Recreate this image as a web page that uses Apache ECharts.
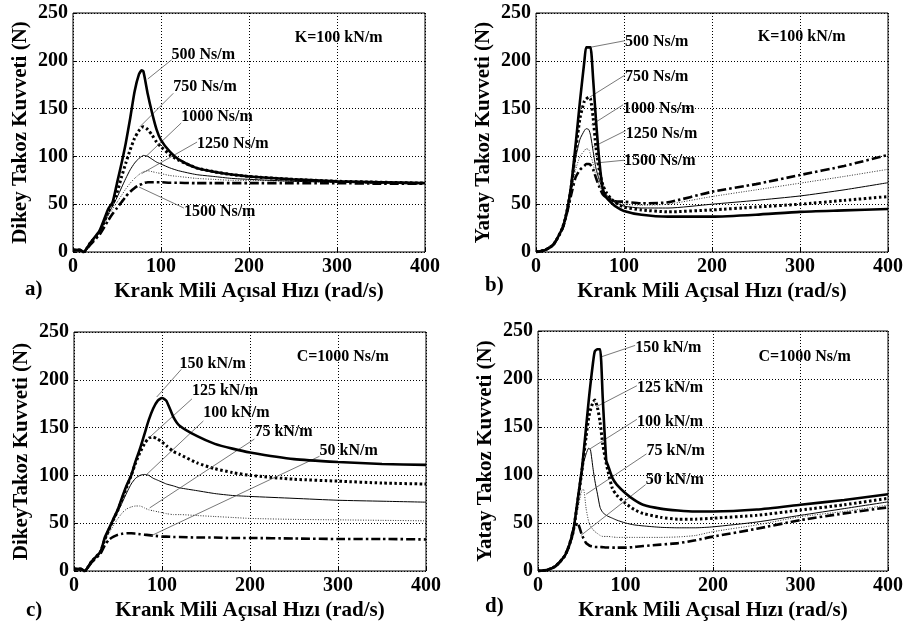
<!DOCTYPE html>
<html>
<head>
<meta charset="utf-8">
<script src="https://cdn.jsdelivr.net/npm/echarts@6/dist/echarts.min.js"></script>
<style>
  html, body { margin: 0; padding: 0; background: #fff; }
  #chart { width: 906px; height: 628px; }
</style>
</head>
<body>
<div id="chart"></div>
<script>
// a) Dikey, K=100 kN/m
const xA = [0, 8, 12, 20, 30, 40, 45, 50, 55, 60, 65, 70, 75, 78, 80, 85, 90, 95, 100, 110, 120, 140, 160, 180, 200, 250, 300, 350, 400]
const a500 = [2, 2, 0, 10, 22, 45, 52, 72, 92, 114, 140, 168, 186, 190, 189, 165, 145, 128, 117, 105, 97, 88, 84, 81, 79, 76, 74, 73, 72]
const a750 = [2, 2, 0, 10, 20, 42, 50, 62, 78, 93, 107, 119, 127, 130, 131, 128, 122, 115, 110, 102, 96, 88, 84, 81, 79, 76, 74, 73, 72]
const a1000 = [2, 2, 0, 10, 20, 40, 48, 57, 67, 77, 86, 93, 98, 100, 101, 100, 97, 94, 92, 88, 85, 81, 79, 77, 76, 74, 73, 72, 72]
const a1250 = [2, 2, 0, 10, 20, 38, 45, 52, 59, 66, 72, 77, 81, 83, 84, 85, 84, 83, 82, 80, 79, 77, 76, 75, 75, 74, 73, 72, 72]
const a1500 = [2, 2, 0, 8, 18, 33, 40, 46, 52, 58, 63, 67, 70, 71, 72, 73, 73, 73, 73, 72.5, 72.5, 72, 72, 72, 72, 72, 72, 71.5, 71.5]

// b) Yatay, K=100 kN/m
const xB = [0, 10, 20, 30, 35, 40, 45, 50, 55, 57, 60, 62, 65, 68, 72, 76, 80, 85, 90, 100, 120, 150, 200, 250, 300, 350, 400]
const b500 = [0, 2, 8, 25, 42, 70, 112, 158, 200, 214, 214, 214, 180, 140, 95, 65, 57, 52, 48, 43, 39, 37, 37, 39, 42, 43.5, 45]
const b750 = [0, 2, 8, 25, 42, 68, 105, 140, 158, 160, 162, 160, 140, 110, 85, 70, 62, 56, 52, 47, 44, 42, 44, 47, 50, 54, 58]
const b1000 = [0, 2, 8, 25, 42, 66, 98, 118, 127, 129, 128, 122, 105, 88, 75, 66, 60, 55, 52, 48, 46, 46, 50, 54, 58.6, 65, 72.5]
const b1250 = [0, 2, 8, 24, 40, 62, 86, 100, 106, 108, 107, 102, 92, 80, 70, 63, 58, 55, 53, 50, 49, 50, 58, 65, 72, 79, 86.5]
const b1500 = [0, 2, 8, 24, 40, 60, 78, 86, 90, 92, 92, 91, 86, 78, 68, 60, 57, 55, 53, 52.6, 51, 52, 63, 71, 80.5, 90, 101.5]

// c) Dikey, C=1000 Ns/m
const xC = [0, 8, 12, 20, 30, 35, 40, 45, 50, 55, 60, 65, 70, 75, 80, 85, 90, 95, 100, 105, 113, 120, 140, 160, 180, 200, 250, 300, 350, 400]
const c150 = [2, 2, 0, 10, 20, 35, 45, 55, 65, 78, 90, 100, 115, 128, 143, 158, 170, 178, 181, 178, 161, 152, 141, 133, 128, 124, 117, 114, 112, 111]
const c125 = [2, 2, 0, 10, 20, 33, 44, 54, 64, 76, 88, 100, 113, 124, 133, 139, 140, 138, 135, 131, 125, 122, 113, 107, 103, 100, 96, 94, 92, 91]
const c100 = [2, 2, 0, 10, 20, 33, 43, 53, 62, 72, 82, 91, 97, 100, 101, 100, 97, 95, 93, 91, 89, 87, 84, 81, 79, 78, 76, 74, 73, 72]
const c75 = [2, 2, 0, 10, 20, 32, 40, 48, 55, 61, 65, 67, 68, 68, 66, 64, 63, 62, 61, 60, 59, 59, 58, 57, 56, 55, 54, 53.5, 53, 52.5]
const c50 = [2, 2, 0, 9, 18, 27, 33, 36, 38, 39, 39.5, 39.5, 39, 38.5, 38, 37.5, 37, 36.5, 36, 36, 35.5, 35.5, 35, 35, 34.5, 34.5, 34, 33.5, 33.5, 33]

// d) Yatay, C=1000 Ns/m
const xD = [0, 10, 20, 30, 35, 40, 45, 50, 52, 55, 58, 60, 63, 65, 68, 71, 74, 78, 80, 85, 90, 100, 110, 120, 140, 160, 180, 200, 250, 300, 350, 400]
const d150 = [0, 1, 5, 15, 25, 40, 72, 105, 122, 150, 178, 195, 218, 229, 231, 231, 180, 115, 110, 97, 90, 81, 74, 69, 65, 63, 62, 62, 64, 69, 74, 80]
const d125 = [0, 1, 5, 15, 25, 40, 70, 103, 118, 140, 160, 168, 176, 178, 170, 155, 132, 112, 104, 86, 79, 70.5, 64, 60, 56, 54, 54, 55, 58, 63.5, 69, 75.7]
const d100 = [0, 1, 5, 15, 25, 40, 70, 100, 112, 122, 128, 126, 106, 94, 80, 66, 61, 58, 57, 55, 53, 50, 48, 47, 45.5, 45, 45, 46, 51, 58, 65, 72]
const d75 = [0, 1, 5, 15, 25, 40, 62, 84, 85, 65, 51, 47, 43, 41, 39, 37, 36, 36, 36, 35.5, 35, 35, 35, 35, 35, 35.5, 37, 41, 48, 56.6, 62, 68.7]
const d50 = [0, 1, 5, 15, 25, 42, 50, 38, 34, 29, 27, 26, 25.5, 25, 25, 25, 24.8, 24.5, 24.5, 24.3, 24.3, 24.3, 25, 26, 27.5, 29, 32, 35.8, 44, 53, 60, 66.3]

const xTicks = [0, 100, 200, 300, 400]
const yTicks = [0, 50, 100, 150, 200, 250]

// annotation texts: t = text, p = text anchor, a/b = leader line ends (data units)
const notesA = [
  { t: '500 Ns/m', p: [112, 206], a: [85, 181], b: [112, 201] },
  { t: '750 Ns/m', p: [114, 173], a: [76, 131], b: [114, 166] },
  { t: '1000 Ns/m', p: [123, 141], a: [83, 100], b: [123, 135] },
  { t: '1250 Ns/m', p: [141, 113], a: [78, 82], b: [141, 115] },
  { t: '1500 Ns/m', p: [126, 42], a: [75, 68], b: [126, 46] },
  { t: 'K=100 kN/m', p: [252, 224] }
]
const notesB = [
  { t: '500 Ns/m', p: [101, 220], a: [61, 214], b: [101, 221] },
  { t: '750 Ns/m', p: [101, 183], a: [61, 162], b: [101, 185] },
  { t: '1000 Ns/m', p: [99, 150], a: [63, 133], b: [99, 154] },
  { t: '1250 Ns/m', p: [102, 124], a: [65, 110], b: [102, 127] },
  { t: '1500 Ns/m', p: [100, 95], a: [67, 93], b: [100, 96] },
  { t: 'K=100 kN/m', p: [252, 225] }
]
const notesC = [
  { t: '150 kN/m', p: [120, 217], a: [94, 182], b: [122, 211] },
  { t: '125 kN/m', p: [134, 188], a: [86, 140], b: [134, 180] },
  { t: '100 kN/m', p: [147, 165], a: [82.6, 101], b: [147, 157] },
  { t: '75 kN/m', p: [205, 146], a: [86, 66], b: [205, 138] },
  { t: '50 kN/m', p: [279, 126], a: [88, 37], b: [279, 120] },
  { t: 'C=1000 Ns/m', p: [253, 224] }
]
const notesD = [
  { t: '150 kN/m', p: [111, 232], a: [72, 223], b: [111, 235] },
  { t: '125 kN/m', p: [113, 191], a: [66.5, 171], b: [113, 193] },
  { t: '100 kN/m', p: [113, 155], a: [59, 127], b: [113, 158] },
  { t: '75 kN/m', p: [124, 125], a: [55, 80], b: [124, 122] },
  { t: '50 kN/m', p: [123, 95], a: [49, 37], b: [123, 90] },
  { t: 'C=1000 Ns/m', p: [252, 223] }
]

const FONT = 'Liberation Serif'
const styles = [
  { width: 2.6, type: 'solid', color: '#000' },
  { width: 3, type: [2.5, 2.5], color: '#000' },
  { width: 1, type: 'solid', color: '#000' },
  { width: 1, type: [1, 1.5], color: '#333' },
  { width: 2.6, type: [9, 3, 2.5, 3], color: '#000' }
]

const panels = [
  { x: xA, ys: [a500, a750, a1000, a1250, a1500], notes: notesA, grid: { left: 73, top: 13, width: 352, height: 239 }, yName: 'Dikey Takoz Kuvveti (N)' },
  { x: xB, ys: [b500, b750, b1000, b1250, b1500], notes: notesB, grid: { left: 536, top: 13, width: 352, height: 239 }, yName: 'Yatay Takoz Kuvveti (N)' },
  { x: xC, ys: [c150, c125, c100, c75, c50], notes: notesC, grid: { left: 74, top: 332, width: 352, height: 239 }, yName: 'DikeyTakoz Kuvveti (N)' },
  { x: xD, ys: [d150, d125, d100, d75, d50], notes: notesD, grid: { left: 538, top: 331, width: 351, height: 240 }, yName: 'Yatay Takoz Kuvveti (N)' }
]

const grids = []
const xAxes = []
const yAxes = []
const series = []

panels.forEach((p, i) => {
  grids.push(Object.assign({ show: true, borderColor: '#000', borderWidth: 1, backgroundColor: '#fff' }, p.grid))
  xAxes.push({
    gridIndex: i,
    type: 'value',
    min: xTicks[0],
    max: xTicks[xTicks.length - 1],
    interval: 100,
    name: 'Krank Mili Açısal Hızı (rad/s)',
    nameLocation: 'middle',
    nameGap: 29,
    nameTextStyle: { fontFamily: FONT, fontWeight: 'bold', fontSize: 21, color: '#000' },
    axisLine: { show: false },
    axisTick: { show: true, inside: true, length: 4, lineStyle: { color: '#000' } },
    axisLabel: { fontFamily: FONT, fontWeight: 'bold', fontSize: 20, color: '#000', margin: 5 },
    splitLine: { show: true, lineStyle: { color: '#000', type: [1, 2], width: 1 } }
  })
  yAxes.push({
    gridIndex: i,
    type: 'value',
    min: yTicks[0],
    max: yTicks[yTicks.length - 1],
    interval: 50,
    name: p.yName,
    nameLocation: 'middle',
    nameGap: 42,
    nameTextStyle: { fontFamily: FONT, fontWeight: 'bold', fontSize: 21, color: '#000' },
    axisLine: { show: false },
    axisTick: { show: true, inside: true, length: 4, lineStyle: { color: '#000' } },
    axisLabel: { fontFamily: FONT, fontWeight: 'bold', fontSize: 20, color: '#000', margin: 5 },
    splitLine: { show: true, lineStyle: { color: '#000', type: [1, 2], width: 1 } }
  })
  p.ys.forEach((ys, k) => {
    series.push({
      type: 'line',
      xAxisIndex: i,
      yAxisIndex: i,
      data: p.x.map((x, j) => [x, ys[j]]),
      showSymbol: false,
      smooth: 0.2,
      lineStyle: styles[k],
      z: 5 - k
    })
  })
  series.push({
    type: 'line',
    xAxisIndex: i,
    yAxisIndex: i,
    data: [],
    silent: true,
    markLine: {
      symbol: 'none',
      silent: true,
      animation: false,
      label: { show: false },
      lineStyle: { color: '#555', width: 0.8, type: 'solid' },
      data: p.notes.filter(n => n.a).map(n => [{ coord: n.a }, { coord: n.b }])
    },
    markPoint: {
      symbol: 'circle',
      symbolSize: 0,
      silent: true,
      animation: false,
      label: {
        show: true,
        position: 'right',
        distance: 0,
        formatter: '{b}',
        fontFamily: FONT,
        fontWeight: 'bold',
        fontSize: 16,
        color: '#000'
      },
      data: p.notes.map(n => ({ name: n.t, coord: n.p }))
    }
  })
})

const panelLabels = [
  { text: 'a)', x: 25, y: 291 },
  { text: 'b)', x: 485, y: 287 },
  { text: 'c)', x: 26, y: 612 },
  { text: 'd)', x: 485, y: 608 }
]

const myChart = echarts.init(document.getElementById('chart'))
myChart.setOption({
  animation: false,
  backgroundColor: '#fff',
  grid: grids,
  xAxis: xAxes,
  yAxis: yAxes,
  series: series,
  graphic: panelLabels.map(l => ({
    type: 'text',
    left: l.x,
    top: l.y - 12,
    style: { text: l.text, font: 'bold 21px "Liberation Serif"', fill: '#000' }
  }))
})
</script>
</body>
</html>
